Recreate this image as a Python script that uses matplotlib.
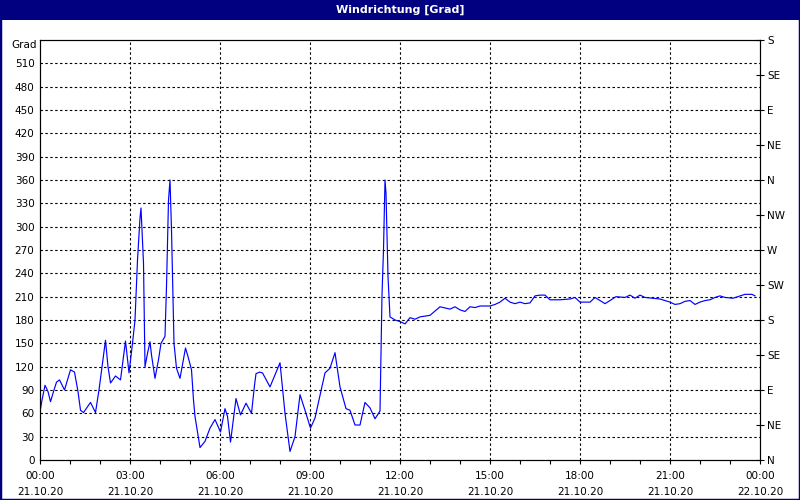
import numpy as np
import matplotlib
matplotlib.use("Agg")
import matplotlib.pyplot as plt
from matplotlib.patches import Rectangle

# minutes since 21.10.20 00:00, wind direction in degrees
minutes = [0, 4, 10, 16, 21, 28, 33, 39, 49, 61, 69, 76, 81, 87, 101, 111, 118, 125,
           131, 136, 141, 151, 161, 171, 178, 185, 190, 195, 200, 202, 207, 210, 215,
           220, 223, 230, 237, 242, 250, 253, 257, 260, 263, 268, 273, 280, 291, 296,
           303, 307, 310, 320, 330, 340, 350, 361, 370, 375, 381, 385, 392, 401, 412,
           423, 429, 432, 439, 445, 460, 480, 490, 500, 510, 520, 530, 541, 550, 570,
           580, 590, 600, 612, 620, 630, 640, 650, 660, 670, 680, 684, 687, 690, 692,
           696, 700, 710, 720, 730, 740, 750, 760, 780, 800, 820, 830, 840, 850, 860,
           870, 880, 900, 910, 920, 930, 940, 950, 960, 970, 980, 990, 1000, 1010, 1020,
           1040, 1060, 1070, 1080, 1100, 1110, 1120, 1130, 1140, 1152, 1170, 1180, 1190,
           1200, 1210, 1226, 1240, 1260, 1270, 1280, 1290, 1300, 1310, 1320, 1330, 1340,
           1350, 1360, 1370, 1386, 1400, 1410, 1424, 1430]
grad = [62, 77, 96, 88, 75, 90, 100, 103, 90, 116, 113, 88, 64, 61, 74, 61, 90, 124,
        154, 120, 99, 108, 103, 153, 112, 150, 180, 257, 311, 324, 253, 120, 137,
        152, 135, 105, 129, 150, 159, 223, 334, 360, 296, 150, 118, 105, 144, 133,
        116, 77, 56, 16, 24, 41, 52, 36, 66, 56, 23, 43, 79, 58, 73,
        60, 96, 111, 113, 112, 94, 125, 60, 11, 30, 84, 64, 41, 54, 112,
        118, 138, 94, 66, 64, 45, 45, 74, 67, 53, 63, 212, 270, 360, 343,
        236, 184, 180, 178, 175, 183, 181, 184, 186, 197, 194, 197, 193, 191, 197,
        196, 198, 198, 200, 203, 208, 203, 201, 203, 201, 202, 211, 212, 212, 206,
        206, 207, 209, 203, 203, 209, 205, 201, 205, 210, 209, 212, 208,
        212, 209, 208, 207, 203, 200, 201, 204, 205, 200, 203, 205, 206,
        209, 211, 209, 208, 211, 213, 213, 211]

hour_ticks = [0, 3, 6, 9, 12, 15, 18, 21, 24]
hour_labels = ["00:00\n21.10.20", "03:00\n21.10.20", "06:00\n21.10.20", "09:00\n21.10.20",
               "12:00\n21.10.20", "15:00\n21.10.20", "18:00\n21.10.20", "21:00\n21.10.20",
               "00:00\n22.10.20"]
compass = ["N", "NE", "E", "SE", "S", "SW", "W", "NW", "N", "NE", "E", "SE", "S"]

navy = "#000080"
fs = 7.5

fig = plt.figure(figsize=(8, 5), dpi=100, facecolor="white")

# window frame and title bar
fig.patches.append(Rectangle((0, 0), 1, 1, transform=fig.transFigure, fill=False,
                             edgecolor=navy, linewidth=2.5))
fig.patches.append(Rectangle((0, 1 - 20 / 500), 1, 20 / 500, transform=fig.transFigure,
                             facecolor=navy, edgecolor="none"))
fig.text(0.5, 1 - 10 / 500, "Windrichtung [Grad]", color="white", fontsize=8,
         fontweight="bold", ha="center", va="center")

ax = fig.add_axes([40 / 800, 40 / 500, 720 / 800, 420 / 500])
t = np.array(minutes) / 60.0
ax.plot(t, grad, color="#0000ff", linewidth=0.85)

ax.set_xlim(0, 24)
ax.set_ylim(0, 540)

ax.set_yticks(range(0, 540, 30))
ax.tick_params(axis="y", length=0, pad=4, labelsize=fs)
ax.set_xticks(hour_ticks)
ax.set_xticklabels(hour_labels, fontsize=fs, linespacing=1.75)
ax.set_xticks(range(0, 25), minor=True)
ax.tick_params(axis="x", which="both", length=3, width=0.8, direction="out", pad=5)

for v in range(30, 540, 30):
    ax.axhline(v, color="black", linewidth=0.8, linestyle=(0, (2.2, 2.2)), zorder=0)
for h in hour_ticks[1:-1]:
    ax.axvline(h, color="black", linewidth=0.8, linestyle=(0, (2.2, 2.2)), zorder=0)

ax.text(-0.12, 534, "Grad", fontsize=fs, ha="right", va="center")

for s in ax.spines.values():
    s.set_linewidth(0.8)

ax2 = ax.twinx()
ax2.set_ylim(0, 540)
ax2.set_yticks(range(0, 541, 45))
ax2.set_yticklabels(compass, fontsize=fs)
ax2.tick_params(axis="y", length=6, width=0.8, direction="inout", pad=2)

fig.savefig("out.png", dpi=100, facecolor="white")
